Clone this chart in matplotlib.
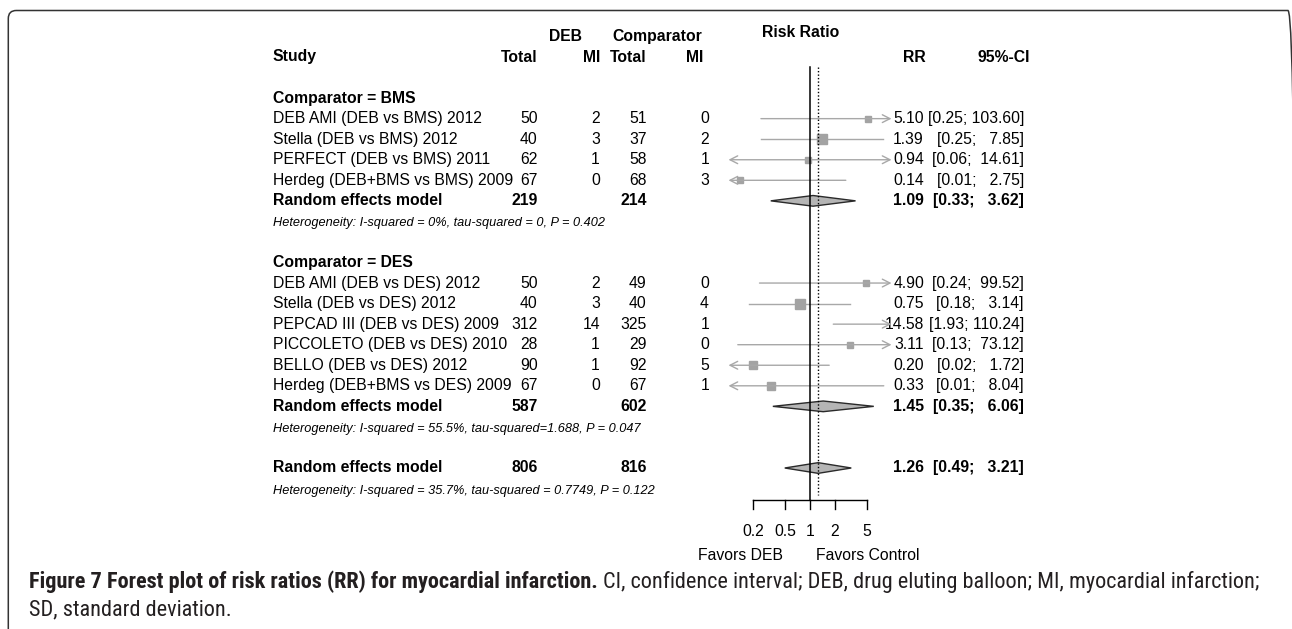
import matplotlib
matplotlib.use('Agg')
import matplotlib.pyplot as plt
import matplotlib.transforms as mtransforms
from matplotlib.patches import Polygon, FancyBboxPatch
import numpy as np

W, H = 1292, 629
plt.rcParams['font.family'] = ['Liberation Sans', 'DejaVu Sans']

# --- data ---
bms_names = ['DEB AMI (DEB vs BMS) 2012', 'Stella (DEB vs BMS) 2012',
             'PERFECT (DEB vs BMS) 2011', 'Herdeg (DEB+BMS vs BMS) 2009']
bms_deb_total = [50, 40, 62, 67]
bms_deb_mi = [2, 3, 1, 0]
bms_cmp_total = [51, 37, 58, 68]
bms_cmp_mi = [0, 2, 1, 3]
bms_rr = [5.10, 1.39, 0.94, 0.14]
bms_lo = [0.25, 0.25, 0.06, 0.01]
bms_hi = [103.60, 7.85, 14.61, 2.75]
bms_weight = [20, 45, 20, 18]
bms_pooled = (1.09, 0.33, 3.62)
bms_totals = (219, 214)
bms_het = 'Heterogeneity: I-squared = 0%, tau-squared = 0, P = 0.402'

des_names = ['DEB AMI (DEB vs DES) 2012', 'Stella (DEB vs DES) 2012',
             'PEPCAD III (DEB vs DES) 2009', 'PICCOLETO (DEB vs DES) 2010',
             'BELLO (DEB vs DES) 2012', 'Herdeg (DEB+BMS vs DES) 2009']
des_deb_total = [50, 40, 312, 28, 90, 67]
des_deb_mi = [2, 3, 14, 1, 1, 0]
des_cmp_total = [49, 40, 325, 29, 92, 67]
des_cmp_mi = [0, 4, 1, 0, 5, 1]
des_rr = [4.90, 0.75, 14.58, 3.11, 0.20, 0.33]
des_lo = [0.24, 0.18, 1.93, 0.13, 0.02, 0.01]
des_hi = [99.52, 3.14, 110.24, 73.12, 1.72, 8.04]
des_weight = [17, 45, 14, 20, 36, 27]
des_pooled = (1.45, 0.35, 6.06)
des_totals = (587, 602)
des_het = 'Heterogeneity: I-squared = 55.5%, tau-squared=1.688, P = 0.047'

all_pooled = (1.26, 0.49, 3.21)
all_totals = (806, 816)
all_het = 'Heterogeneity: I-squared = 35.7%, tau-squared = 0.7749, P = 0.122'

ticks = [0.2, 0.5, 1, 2, 5]
tick_labels = ['0.2', '0.5', '1', '2', '5']

cap_bold = 'Figure 7 Forest plot of risk ratios (RR) for myocardial infarction.'
cap_rest = 'CI, confidence interval; DEB, drug eluting balloon; MI, myocardial infarction;'
cap_line2 = 'SD, standard deviation.'

LINE = '#a8a8a8'
BOX = '#a3a3a3'
FS = 11.3
FS_HET = 9.2

fig = plt.figure(figsize=(W / 100, H / 100), dpi=100)
ax = fig.add_axes([728.5 / W, 0, 163 / W, 1])
ax.set_xscale('log')
ax.set_xlim(0.1, 10)
y0, dy = 57, 20.55
ax.set_ylim((H - y0) / dy, -y0 / dy)
ax.axis('off')

tr = mtransforms.blended_transform_factory(fig.transFigure, ax.transData)


def txt(xp, r, s, ha='right', fs=FS, **kw):
    ax.text(xp / W, r, s, transform=tr, ha=ha, va='center', fontsize=fs, **kw)


# columns (pixel x)
C_NAME, C_DT, C_DM, C_CT, C_CM = 272.7, 537.7, 600, 646.7, 709
C_RR, C_CI = 924, 1024

# headers
txt(565, -0.98, 'DEB', ha='center', weight='bold')
txt(657, -0.98, 'Comparator', ha='center', weight='bold')
txt(800.5, -1.17, 'Risk Ratio', ha='center', weight='bold')
txt(C_NAME, 0, 'Study', ha='left', weight='bold')
txt(C_DT, 0, 'Total', weight='bold')
txt(C_DM, 0, 'MI', weight='bold')
txt(C_CT, 0, 'Total', weight='bold')
txt(703, 0, 'MI', weight='bold')
txt(926, 0, 'RR', weight='bold')
txt(1030, 0, '95%-CI', weight='bold')


def ci_text(r, rr, lo, hi, **kw):
    txt(C_RR, r, f'{rr:.2f}', **kw)
    txt(C_CI, r, f'[{lo:.2f}; {hi:6.2f}]', **kw)


def ci_line(r, lo, hi):
    a, b = max(lo, 0.1), min(hi, 10)
    left, right = lo < 0.1, hi > 10
    if left or right:
        style = '<->' if (left and right) else ('->' if right else '<-')
        ax.annotate('', xy=(b, r), xytext=(a, r),
                    arrowprops=dict(arrowstyle=style + ',head_length=0.55,head_width=0.28',
                                    color=LINE, lw=1, shrinkA=0, shrinkB=0))
    else:
        ax.plot([a, b], [r, r], color=LINE, lw=1)


def diamond(r, rr, lo, hi, h=0.26):
    ax.add_patch(Polygon([(lo, r), (rr, r - h), (hi, r), (rr, r + h)], closed=True,
                         fc='#b5b5b5', ec='#2a2a2a', lw=1, zorder=3))


def group(r0, title, names, dt, dm, ct, cm, rr, lo, hi, wt, pooled, totals, het):
    txt(C_NAME, r0, title, ha='left', weight='bold')
    for i, nm in enumerate(names):
        r = r0 + 1 + i
        txt(C_NAME, r, nm, ha='left')
        txt(C_DT, r, str(dt[i]))
        txt(C_DM, r, str(dm[i]))
        txt(C_CT, r, str(ct[i]))
        txt(C_CM, r, str(cm[i]))
        ci_text(r, rr[i], lo[i], hi[i])
        ci_line(r, lo[i], hi[i])
        if 0.1 <= rr[i] <= 10:
            ax.plot(rr[i], r, marker='s', ms=0.72 * 1.35 * np.sqrt(wt[i]),
                    color=BOX, mec=BOX, zorder=2)
    rp = r0 + 1 + len(names)
    txt(C_NAME, rp, 'Random effects model', ha='left', weight='bold')
    txt(C_DT, rp, str(totals[0]), weight='bold')
    txt(C_CT, rp, str(totals[1]), weight='bold')
    ci_text(rp, *pooled, weight='bold')
    diamond(rp, *pooled)
    txt(C_NAME, rp + 1.1, het, ha='left', fs=FS_HET, style='italic')


group(2, 'Comparator = BMS', bms_names, bms_deb_total, bms_deb_mi, bms_cmp_total,
      bms_cmp_mi, bms_rr, bms_lo, bms_hi, bms_weight, bms_pooled, bms_totals, bms_het)
group(10, 'Comparator = DES', des_names, des_deb_total, des_deb_mi, des_cmp_total,
      des_cmp_mi, des_rr, des_lo, des_hi, des_weight, des_pooled, des_totals, des_het)

r_all = 20
txt(C_NAME, r_all, 'Random effects model', ha='left', weight='bold')
txt(C_DT, r_all, str(all_totals[0]), weight='bold')
txt(C_CT, r_all, str(all_totals[1]), weight='bold')
ci_text(r_all, *all_pooled, weight='bold')
diamond(r_all, *all_pooled)
txt(C_NAME, r_all + 1.1, all_het, ha='left', fs=FS_HET, style='italic')

# reference lines and axis
ra = 21.56
ax.plot([1, 1], [0.47, ra], color='black', lw=1.1, zorder=4)
ax.plot([all_pooled[0]] * 2, [0.47, 21.3], color='black', lw=1, ls=(0, (1, 1.5)), zorder=4)
ax.plot([ticks[0], ticks[-1]], [ra, ra], color='black', lw=1)
for t, lab in zip(ticks, tick_labels):
    ax.plot([t, t], [ra, ra + 0.44], color='black', lw=1)
    ax.text(t, 23.07, lab, ha='center', va='center', fontsize=FS)
txt(740.7, 24.28, 'Favors DEB', ha='center')
txt(867.7, 24.28, 'Favors Control', ha='center')

# frame (right and bottom edges fall outside the canvas)
fig.add_artist(FancyBboxPatch((8.3, -30), 1296 - 8.3, H - 10.5 + 30,
                              boxstyle='round,pad=0,rounding_size=8',
                              transform=mtransforms.IdentityTransform(),
                              fill=False, ec='#333333', lw=1.1))

# caption
cap_fam = ['Liberation Sans Narrow', 'Roboto Condensed', 'Liberation Sans', 'DejaVu Sans']
cap_x0, cap_x1 = 29, 1265
fs = 12
kw = dict(fontsize=fs, family=cap_fam, stretch='condensed', color='#231f20', va='baseline')
t1 = fig.text(cap_x0 / W, 1 - 588 / H, cap_bold, weight='bold', **kw)
t2 = fig.text(0, 1 - 588 / H, cap_rest, **kw)
t3 = fig.text(cap_x0 / W, 1 - 615 / H, cap_line2, **kw)
fig.canvas.draw()
rend = fig.canvas.get_renderer()
wtot = t1.get_window_extent(rend).width + t2.get_window_extent(rend).width + 0.3 * fs
k = (cap_x1 - cap_x0) / wtot
for t in (t1, t2, t3):
    t.set_fontsize(fs * k)
fig.canvas.draw()
b1 = t1.get_window_extent(rend)
t2.set_x((b1.x1 + 0.3 * fs * k) / W)

fig.savefig('out.png', dpi=100)
